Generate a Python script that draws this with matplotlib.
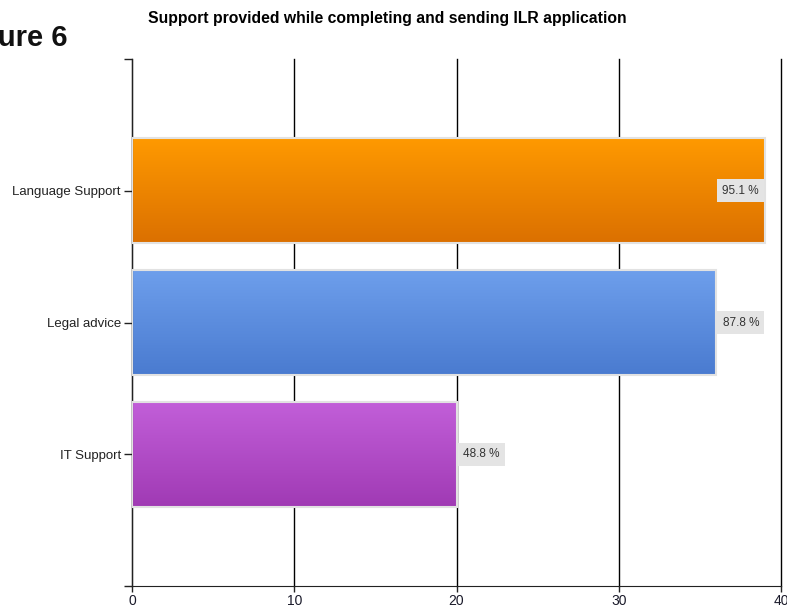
import matplotlib.pyplot as plt
import matplotlib.colors as mcolors
import numpy as np

plt.rcParams['font.family'] = ['Liberation Sans', 'DejaVu Sans']

# data (bottom to top)
categories = ["IT Support", "Legal advice", "Language Support"]
counts = [20, 36, 39]
pct_labels = ["48.8 %", "87.8 %", "95.1 %"]
top_colors = ["#C25FD9", "#6E9FEC", "#FF9A00"]
bottom_colors = ["#A03AB4", "#4A7BD0", "#DB7000"]

fig = plt.figure(figsize=(7.87, 6.10), dpi=100)
ax = fig.add_axes([132/787, 24/610, 649/787, 527/610])

bars = ax.barh(range(len(categories)), counts, height=0.8,
               facecolor='none', edgecolor='#E2E2E2', linewidth=1.5, zorder=3)

# gradient fill, clipped to each bar
for rect, c_top, c_bot in zip(bars, top_colors, bottom_colors):
    x0, y0 = rect.get_x(), rect.get_y()
    w, h = rect.get_width(), rect.get_height()
    cmap = mcolors.LinearSegmentedColormap.from_list('g', [c_bot, c_top])
    grad = np.linspace(0, 1, 256).reshape(-1, 1)
    im = ax.imshow(grad, cmap=cmap, origin='lower', aspect='auto',
                   extent=[x0, x0 + w, y0, y0 + h], zorder=2)
    im.set_clip_path(rect)

# value labels
for i, (v, lab) in enumerate(zip(counts, pct_labels)):
    box = dict(boxstyle='square,pad=0.45', facecolor='#E4E4E4', edgecolor='none')
    if v > 37:
        ax.text(v - 0.35, i, lab, ha='right', va='center', fontsize=8.5,
                color='#333333', bbox=box, zorder=5)
    else:
        ax.text(v + 0.4, i, lab, ha='left', va='center', fontsize=8.5,
                color='#333333', bbox=box, zorder=5)

ax.set_xlim(0, 40)
ax.set_ylim(-1, 3)
ax.set_xticks([0, 10, 20, 30, 40])
ax.set_yticks([-1, 0, 1, 2, 3])
ax.set_yticklabels([''] + categories + [''])
ax.tick_params(axis='y', length=6, width=1, color='#222222', labelsize=9.5,
               labelcolor='#222222', pad=2)
ax.tick_params(axis='x', length=4, width=1, color='#222222', labelsize=10,
               labelcolor='#1a1a2a', pad=2)
ax.xaxis.grid(True, color='black', linewidth=1)
for gl in ax.get_xgridlines():
    gl.set_clip_on(False)
ax.set_axisbelow(True)
for s in ['top', 'right']:
    ax.spines[s].set_visible(False)
for s in ['left', 'bottom']:
    ax.spines[s].set_color('#222222')

fig.text(387/787, 1 - 18/610, "Support provided while completing and sending ILR application",
         ha='center', va='center', fontsize=11.3, fontweight='bold')
fig.text(68/787, 1 - 38/610, "Figure 6", ha='right', va='center',
         fontsize=21, fontweight='bold', color='#111111')

fig.savefig("out.png", dpi=100)
